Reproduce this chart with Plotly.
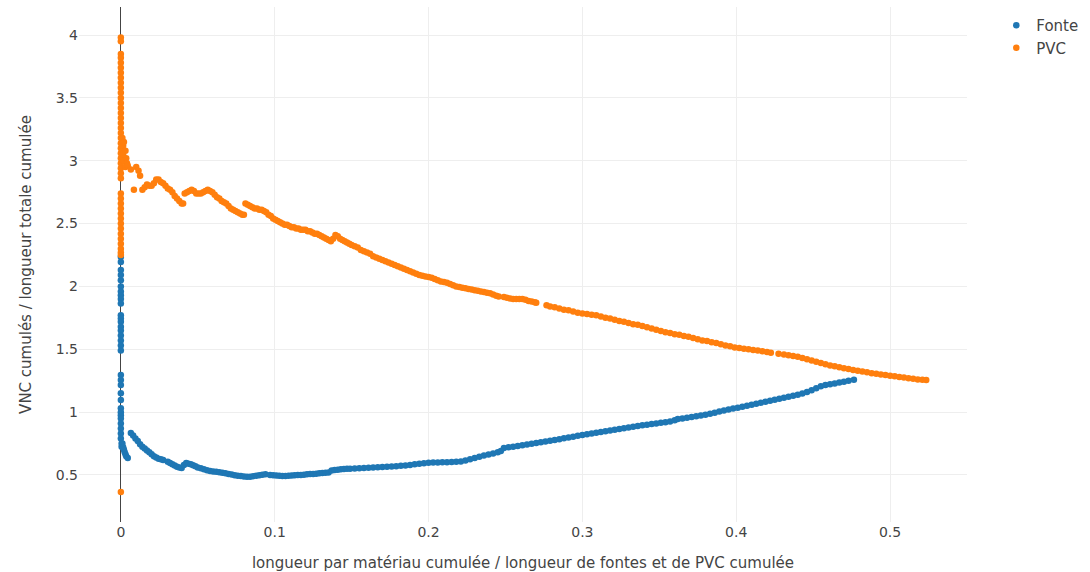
import plotly.graph_objects as go

# --- Fonte ---------------------------------------------------------------
fonte_x = [
    0.0, 0.0, 0.0, 0.0, 0.0, 0.0, 0.0, 0.0, 0.0, 0.0,
    0.0, 0.0, 0.0, 0.0, 0.0, 0.0, 0.0, 0.0, 0.0, 0.0,
    0.0, 0.0, 0.0, 0.0, 0.0, 0.0, 0.0, 0.0, 0.0, 0.0,
    0.0, 0.0, 0.0005, 0.0005,
    0.001, 0.0015, 0.002, 0.0025, 0.003, 0.0035, 0.0045,
    0.0065, 0.008, 0.0095, 0.011, 0.0125, 0.014, 0.0155, 0.017, 0.0185, 0.020,
    0.0215, 0.023, 0.0245, 0.026, 0.0275,
    0.0305, 0.032, 0.0335, 0.035, 0.0365, 0.038, 0.0395, 0.041, 0.0425, 0.044,
    0.0455, 0.047, 0.0485, 0.050, 0.052, 0.054, 0.056, 0.058, 0.060, 0.062,
    0.064, 0.066, 0.068, 0.070, 0.072, 0.074, 0.076, 0.078, 0.080, 0.082,
    0.084, 0.086, 0.088, 0.090, 0.092, 0.094,
    0.097, 0.099, 0.101, 0.103, 0.105, 0.107, 0.109, 0.111, 0.113, 0.115,
    0.117, 0.119, 0.121, 0.123, 0.125, 0.127, 0.129, 0.131, 0.133, 0.135,
    0.137, 0.139, 0.141, 0.143, 0.145, 0.147, 0.149, 0.152, 0.155, 0.158,
    0.161, 0.164, 0.167, 0.170, 0.173, 0.176, 0.179, 0.182, 0.185, 0.188,
    0.191, 0.194, 0.197, 0.200, 0.203, 0.206, 0.209, 0.212, 0.215, 0.218,
    0.221, 0.224, 0.227, 0.230, 0.233, 0.236, 0.239, 0.242, 0.245, 0.247,
    0.249, 0.252, 0.255, 0.258, 0.261, 0.264, 0.267, 0.270, 0.273, 0.276,
    0.279, 0.282, 0.285, 0.288, 0.291, 0.294, 0.297, 0.300, 0.303, 0.306,
    0.309, 0.312, 0.315, 0.318, 0.321, 0.324, 0.327, 0.330, 0.333, 0.336,
    0.339, 0.342, 0.345, 0.348, 0.351, 0.354, 0.357, 0.360, 0.362, 0.365,
    0.368, 0.371, 0.374, 0.377, 0.380, 0.383, 0.386, 0.389, 0.392, 0.395,
    0.398, 0.401, 0.404, 0.407, 0.410, 0.413, 0.416, 0.419, 0.422, 0.425,
    0.428, 0.431, 0.434, 0.437, 0.440, 0.443, 0.446, 0.449, 0.452, 0.455,
    0.458, 0.461, 0.464, 0.467, 0.470, 0.473, 0.4765,
]
fonte_y = [
    2.235, 2.195, 2.13, 2.09, 2.05, 2.0, 1.96, 1.93, 1.90, 1.865,
    1.77, 1.745, 1.72, 1.68, 1.65, 1.61, 1.57, 1.53, 1.49, 1.295,
    1.255, 1.215, 1.15, 1.096, 1.03, 1.0, 0.975, 0.95, 0.91, 0.87,
    0.83, 0.79, 0.75, 0.725,
    0.75, 0.72, 0.70, 0.68, 0.665, 0.65, 0.635,
    0.834, 0.815, 0.79, 0.77, 0.745, 0.725, 0.71, 0.695, 0.68, 0.665,
    0.65, 0.64, 0.63, 0.625, 0.62,
    0.605, 0.595, 0.585, 0.575, 0.565, 0.56, 0.555, 0.58, 0.595, 0.59,
    0.585, 0.578, 0.57, 0.56, 0.553, 0.546, 0.538, 0.532, 0.528, 0.525,
    0.522, 0.518, 0.513, 0.508, 0.503, 0.498, 0.494, 0.491, 0.488, 0.486,
    0.485, 0.49, 0.494, 0.498, 0.502, 0.505,
    0.50, 0.498, 0.495, 0.493, 0.492, 0.492, 0.493, 0.495, 0.497, 0.499,
    0.50, 0.502, 0.505, 0.507, 0.508, 0.51, 0.513, 0.515, 0.517, 0.52,
    0.535, 0.54, 0.542, 0.545, 0.547, 0.549, 0.55, 0.551, 0.553, 0.555,
    0.557, 0.559, 0.561, 0.563, 0.565, 0.567, 0.57, 0.573, 0.576, 0.58,
    0.585, 0.59, 0.594, 0.597, 0.599, 0.60, 0.601, 0.602, 0.603, 0.605,
    0.608, 0.615, 0.625, 0.635, 0.645, 0.655, 0.663, 0.67, 0.68, 0.69,
    0.715, 0.72, 0.725, 0.73, 0.736, 0.742, 0.748, 0.754, 0.76, 0.766,
    0.772, 0.778, 0.785, 0.792, 0.798, 0.805, 0.812, 0.818, 0.824, 0.83,
    0.836, 0.842, 0.848, 0.854, 0.86, 0.866, 0.872, 0.878, 0.884, 0.89,
    0.895, 0.90, 0.905, 0.91, 0.915, 0.92, 0.925, 0.935, 0.945, 0.95,
    0.956, 0.962, 0.968, 0.974, 0.98, 0.988, 0.996, 1.005, 1.013, 1.021,
    1.028, 1.035, 1.042, 1.05, 1.058, 1.066, 1.074, 1.082, 1.09, 1.098,
    1.106, 1.114, 1.122, 1.13, 1.138, 1.148, 1.16, 1.175, 1.19, 1.205,
    1.215, 1.222, 1.228, 1.235, 1.242, 1.25, 1.258,
]

# --- PVC -----------------------------------------------------------------
pvc_x = [
    0.0, 0.0, 0.0, 0.0, 0.0, 0.0, 0.0, 0.0, 0.0, 0.0,
    0.0, 0.0, 0.0, 0.0, 0.0, 0.0, 0.0, 0.0, 0.0, 0.0,
    0.0, 0.0, 0.0, 0.0, 0.0, 0.0, 0.0, 0.0, 0.0, 0.0,
    0.0, 0.0, 0.0, 0.0, 0.0, 0.0, 0.0, 0.0, 0.0, 0.0,
    0.0, 0.0, 0.0,
    0.001, 0.0015, 0.002, 0.0015, 0.002, 0.003, 0.0035, 0.004, 0.003,
    0.0045, 0.0065, 0.0085, 0.010, 0.0115, 0.0125, 0.014, 0.0155, 0.017, 0.0185,
    0.020, 0.0215, 0.023, 0.0245, 0.026, 0.0275, 0.029, 0.0305, 0.032, 0.0335,
    0.035, 0.0365, 0.038, 0.0395, 0.0405,
    0.0415, 0.043, 0.0445, 0.046, 0.0475, 0.049, 0.0505, 0.052, 0.0535, 0.055,
    0.0565, 0.058, 0.0595, 0.061, 0.0625, 0.064, 0.0655, 0.067, 0.0685, 0.070,
    0.0715, 0.073, 0.0745, 0.076, 0.0775, 0.079, 0.080,
    0.081, 0.0825, 0.084, 0.0855, 0.087, 0.0885, 0.090, 0.0915, 0.093, 0.0945,
    0.096, 0.0975, 0.099, 0.1005, 0.102, 0.1035, 0.105, 0.1065, 0.108, 0.1095,
    0.111, 0.1125, 0.114, 0.1155, 0.117, 0.1185, 0.120, 0.1215, 0.123, 0.1245,
    0.126, 0.1275, 0.129, 0.1305, 0.132, 0.1335, 0.135, 0.1365, 0.138, 0.1395,
    0.141, 0.1425, 0.144, 0.1455, 0.147, 0.1485, 0.150, 0.152, 0.154, 0.156,
    0.158, 0.160, 0.162, 0.164, 0.166, 0.168, 0.170, 0.172, 0.174, 0.176,
    0.178, 0.180, 0.182, 0.184, 0.186, 0.188, 0.190, 0.192, 0.194, 0.196,
    0.198, 0.200, 0.202, 0.204, 0.206, 0.208, 0.210, 0.212, 0.214, 0.216,
    0.218, 0.220, 0.222, 0.224, 0.226, 0.228, 0.230, 0.232, 0.234, 0.236,
    0.238, 0.240, 0.242, 0.244, 0.2456,
    0.249, 0.251, 0.253, 0.255, 0.257, 0.259, 0.261, 0.263, 0.265, 0.267,
    0.269, 0.270,
    0.2767, 0.279, 0.282, 0.285, 0.288, 0.291, 0.294, 0.297, 0.300, 0.303,
    0.306, 0.309, 0.312, 0.315, 0.318, 0.321, 0.324, 0.327, 0.330, 0.333,
    0.336, 0.339, 0.342, 0.345, 0.348, 0.351, 0.354, 0.357, 0.360, 0.363,
    0.366, 0.369, 0.372, 0.375, 0.378, 0.381, 0.384, 0.387, 0.390, 0.393,
    0.396, 0.399, 0.402, 0.405, 0.408, 0.411, 0.414, 0.417, 0.420, 0.4225,
    0.4275,
    0.431, 0.434, 0.437, 0.440, 0.443, 0.446, 0.449, 0.452, 0.455, 0.458,
    0.461, 0.464, 0.467, 0.470, 0.473, 0.476, 0.479, 0.482, 0.485, 0.488,
    0.491, 0.494, 0.497, 0.500, 0.503, 0.506, 0.509, 0.512, 0.515, 0.518,
    0.521, 0.5235,
]
pvc_y = [
    3.98, 3.95, 3.85, 3.82, 3.78, 3.74, 3.70, 3.66, 3.62, 3.58,
    3.54, 3.50, 3.46, 3.42, 3.38, 3.34, 3.30, 3.26, 3.22, 3.18,
    3.14, 3.10, 3.06, 3.02, 2.98, 2.94, 2.90, 2.86, 2.74, 2.70,
    2.66, 2.62, 2.58, 2.54, 2.50, 2.46, 2.42, 2.38, 2.34, 2.30,
    2.27, 2.25, 0.365,
    3.18, 3.12, 3.15, 3.05, 3.0, 3.08, 3.02, 2.98, 2.95,
    2.96, 2.93, 2.77, 2.95, 2.92, 2.88, 2.77, 2.79, 2.81, 2.80,
    2.80, 2.82, 2.85, 2.85, 2.83, 2.82, 2.80, 2.78, 2.77, 2.75,
    2.72, 2.70, 2.68, 2.66, 2.66,
    2.74, 2.75, 2.76, 2.77, 2.76, 2.74, 2.74, 2.74, 2.75, 2.76,
    2.77, 2.76, 2.75, 2.73, 2.71, 2.70, 2.68, 2.67, 2.66, 2.64,
    2.62, 2.61, 2.60, 2.59, 2.58, 2.57, 2.57,
    2.66, 2.65, 2.64, 2.63, 2.62, 2.62, 2.61, 2.61, 2.60, 2.59,
    2.57, 2.56, 2.54, 2.53, 2.52, 2.51, 2.50, 2.49, 2.49, 2.48,
    2.47, 2.47, 2.46, 2.46, 2.45, 2.45, 2.45, 2.44, 2.44, 2.43,
    2.42, 2.42, 2.41, 2.40, 2.39, 2.38, 2.37, 2.36, 2.38, 2.41,
    2.40, 2.38, 2.37, 2.36, 2.35, 2.34, 2.33, 2.32, 2.31, 2.29,
    2.28, 2.27, 2.26, 2.24, 2.23, 2.22, 2.21, 2.20, 2.19, 2.18,
    2.17, 2.16, 2.15, 2.14, 2.13, 2.12, 2.11, 2.10, 2.09, 2.085,
    2.08, 2.075, 2.07, 2.06, 2.05, 2.04, 2.035, 2.03, 2.02, 2.01,
    2.00, 1.995, 1.99, 1.985, 1.98, 1.975, 1.97, 1.965, 1.96, 1.955,
    1.95, 1.945, 1.935, 1.925, 1.92,
    1.915, 1.91, 1.905, 1.90, 1.90, 1.90, 1.90, 1.895, 1.885, 1.88,
    1.875, 1.87,
    1.85, 1.84, 1.835, 1.825, 1.815, 1.81, 1.80, 1.79, 1.785, 1.78,
    1.775, 1.77, 1.76, 1.75, 1.745, 1.735, 1.725, 1.72, 1.71, 1.70,
    1.695, 1.685, 1.675, 1.665, 1.655, 1.645, 1.635, 1.63, 1.62, 1.615,
    1.605, 1.60, 1.59, 1.58, 1.57, 1.565, 1.555, 1.55, 1.54, 1.53,
    1.525, 1.515, 1.51, 1.505, 1.50, 1.495, 1.49, 1.485, 1.478, 1.472,
    1.465,
    1.458, 1.452, 1.446, 1.44, 1.43, 1.42, 1.41, 1.40, 1.39, 1.38,
    1.372, 1.365, 1.358, 1.35, 1.343, 1.336, 1.33, 1.323, 1.317, 1.31,
    1.305, 1.30, 1.295, 1.29, 1.285, 1.28, 1.275, 1.27, 1.265, 1.26,
    1.257, 1.255,
]

font_main = "Verdana, DejaVu Sans, sans-serif"

fig = go.Figure()
fig.add_trace(go.Scatter(x=fonte_x, y=fonte_y, mode="markers", name="Fonte",
                         marker=dict(color="#1f77b4", size=6.5)))
fig.add_trace(go.Scatter(x=pvc_x, y=pvc_y, mode="markers", name="PVC",
                         marker=dict(color="#ff7f0e", size=6.5)))

fig.update_layout(
    template="none",
    width=1090, height=572,
    margin=dict(l=79, r=117, t=7, b=50),
    font=dict(family=font_main, size=14, color="#444"),
    legend=dict(font=dict(size=15), x=1.033, y=0.996, xanchor="left", yanchor="top"),
    xaxis=dict(title=dict(text="longueur par matériau cumulée / longueur de fontes et de PVC cumulée",
                          font=dict(size=15)),
               automargin=False,
               range=[-0.0272, 0.55], tickvals=[0, 0.1, 0.2, 0.3, 0.4, 0.5],
               ticktext=["0", "0.1", "0.2", "0.3", "0.4", "0.5"],
               gridcolor="#eee", zeroline=True, zerolinecolor="#444", zerolinewidth=1),
    yaxis=dict(title=dict(text="VNC cumulés / longueur totale cumulée", font=dict(size=15),
                          standoff=20),
               automargin=False,
               range=[0.126, 4.223], tickvals=[0.5, 1, 1.5, 2, 2.5, 3, 3.5, 4],
               ticktext=["0.5", "1", "1.5", "2", "2.5", "3", "3.5", "4"],
               gridcolor="#eee", zeroline=False),
    plot_bgcolor="white", paper_bgcolor="white",
)

# the page body has a default 8px margin; remove it so the figure sits at the corner
fig.write_html("out.html", config={"displayModeBar": False},
               post_script="document.body.style.margin='0';")
